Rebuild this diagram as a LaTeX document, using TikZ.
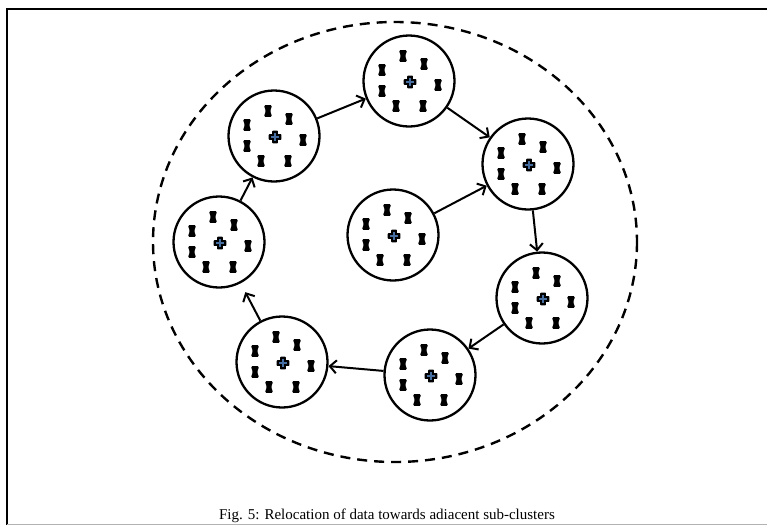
\documentclass[tikz,border=0pt]{standalone}
\usepackage{fontspec}
\setmainfont{Liberation Serif}
\usetikzlibrary{arrows.meta}
\definecolor{plusblue}{RGB}{70,110,160}
\tikzset{
  cl/.style={circle, draw, line width=2.3pt, minimum size=91pt, inner sep=0pt},
  ar/.style={line width=2pt, -{Straight Barb[length=6.5pt,width=13pt,line width=2pt]}},
  marker/.pic={\fill[rounded corners=1.4pt] (-4.2,-5.8) -- (4.2,-5.8) -- (2.2,0) -- (4.2,5.8) -- (-4.2,5.8) -- (-2.2,0) -- cycle;},
  contents/.pic={
    \fill[rounded corners=0.6pt] (-2.8,-6.3) rectangle (2.8,6.3);
    \fill[rounded corners=0.6pt] (-6.3,-2.8) rectangle (6.3,2.8);
    \draw[plusblue, line width=1.2pt] (-4,0) -- (4,0) (0,-4) -- (0,4);
    \foreach \p in {(-7,-26),(14,-18),(-28,-12),(28,3),(-28,9),(-14,24),(13,24)}
      \pic at \p {marker};
  }
}
\begin{document}
\begin{tikzpicture}[x=1pt,y=-1pt]
\useasboundingbox (0,0) rectangle (767,525);
% frame
\draw[line width=1.6pt] (7,525) -- (7,9) -- (767,9);
\draw[gray!60, line width=0.8pt] (7,524.5) -- (767,524.5);
% outer dashed ellipse
\draw[line width=2.4pt, dash pattern=on 10pt off 7pt] (395,242) ellipse [x radius=242, y radius=220];
% clusters
\node[cl] (top) at (409,81) {};
\node[cl] (tl)  at (274,136) {};
\node[cl] (lf)  at (219,242) {};
\node[cl] (bl)  at (282,362) {};
\node[cl] (bm)  at (430,375) {};
\node[cl] (rl)  at (542,298) {};
\node[cl] (ru)  at (528,164) {};
\node[cl] (ce)  at (393,235) {};
\foreach \n in {top,tl,lf,bl,bm,rl,ru,ce}
  \pic at ([shift={(1,1)}]\n.center) {contents};
% arrows
\draw[ar] (ce) -- (ru);
\draw[ar] (top) -- (ru);
\draw[ar] (tl) -- (top);
\draw[ar] (lf) -- (tl);
\draw[ar] (ru) -- (rl);
\draw[ar] (rl) -- (bm);
\draw[ar] (bm) -- (bl);
\draw[ar, shorten >=10pt] (bl) -- (lf);
% caption
\node[font=\fontsize{15}{16}\selectfont, anchor=base] (cap) at (387,519) {Fig. 5: Relocation of data towards adiacent sub-clusters};
\end{tikzpicture}
\end{document}
